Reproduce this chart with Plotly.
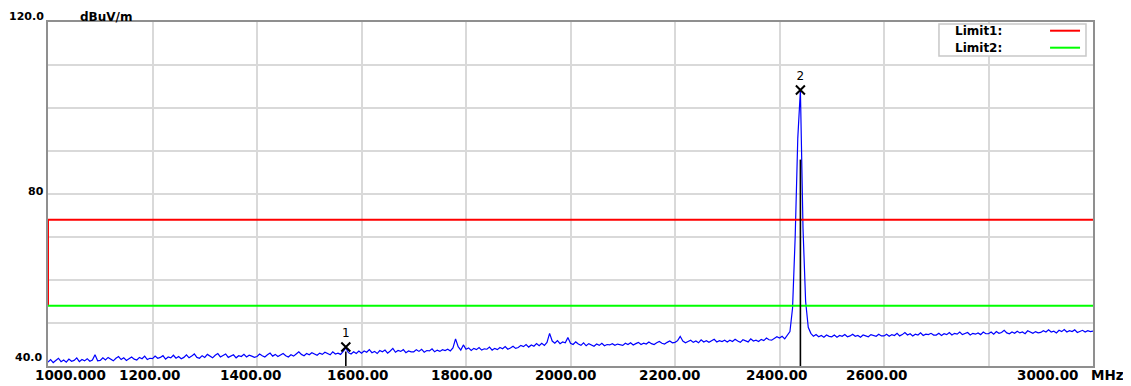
import numpy as np
import plotly.graph_objects as go

# ---------------- data ----------------
freq_start, freq_stop, freq_step = 1000, 3000, 5  # MHz sweep grid
level = [
    # 1000-1095
    40.9, 41.5, 40.8, 41.2, 41.8, 41.0, 41.4, 40.9, 41.6, 41.1, 41.3, 41.9, 41.0, 41.5, 41.2, 41.7, 41.1, 41.4, 42.6, 41.2,
    # 1100-1195
    41.3, 41.9, 41.4, 42.0, 41.6, 41.2, 41.8, 42.2, 41.5, 41.9, 41.3, 41.7, 42.1, 41.6, 41.4, 42.0, 41.7, 42.3, 41.5, 41.8,
    # 1200-1295
    41.7, 42.3, 41.8, 42.0, 42.4, 41.6, 42.1, 41.9, 42.5, 41.8, 42.2, 41.7, 42.0, 42.6, 41.9, 42.3, 42.8, 42.0, 41.8, 42.4,
    # 1300-1395
    42.0, 42.7, 42.2, 41.9, 42.5, 42.9, 42.1, 42.4, 42.8, 42.0, 42.3, 42.6, 41.9, 42.4, 42.2, 42.7, 42.1, 42.5, 42.3, 42.0,
    # 1400-1495
    42.2, 42.8, 42.4, 42.1, 42.6, 43.0, 42.3, 42.7, 42.2, 42.5, 42.9, 42.4, 42.1, 42.6, 42.3, 42.8, 43.3, 42.7, 42.4, 42.9,
    # 1500-1595
    42.6, 43.1, 42.8, 42.5, 43.0, 42.7, 43.2, 42.9, 42.6, 43.3, 42.8, 43.0, 42.7, 43.4, 44.2, 43.1, 42.8, 43.3, 42.9, 43.5,
    # 1600-1695
    43.0, 43.5, 43.2, 43.8, 43.1, 43.4, 42.9, 43.6, 43.3, 43.7, 43.0, 43.5, 44.1, 43.2, 43.6, 43.4, 43.8, 43.1, 43.5, 43.3,
    # 1700-1795
    43.3, 43.8, 43.4, 43.9, 43.2, 43.6, 43.5, 44.0, 43.3, 43.7, 43.4, 43.8, 43.6, 43.9, 43.5, 44.2, 46.3, 44.5, 43.7, 44.9,
    # 1800-1895
    43.9, 44.2, 43.6, 44.1, 43.8, 44.3, 43.7, 44.0, 43.9, 44.4, 43.7, 44.1, 43.8, 44.3, 44.0, 44.5, 43.9, 44.2, 44.6, 44.1,
    # 1900-1995
    44.3, 44.8, 44.5, 45.0, 44.4, 44.9, 44.6, 45.2, 44.7, 45.3, 44.8, 45.5, 47.6, 45.8, 45.3, 45.9, 45.2, 45.6, 45.4, 46.6,
    # 2000-2095
    45.3, 45.0, 45.6, 45.1, 44.8, 45.4, 44.7, 45.2, 44.9, 44.6, 45.1, 44.8, 45.3, 44.7, 45.0, 44.9, 45.2, 44.8, 45.1, 44.9,
    # 2100-2195
    44.8, 45.3, 45.0, 45.4, 44.9, 45.2, 45.5, 45.0, 45.3, 45.1, 45.6, 45.2, 45.0, 45.4, 45.7, 45.3, 45.1, 45.5, 45.8, 45.4,
    # 2200-2295
    45.5, 45.9, 46.9, 45.8, 45.4, 45.7, 46.0, 45.5, 45.8, 45.4, 46.1, 45.6, 45.9, 45.5, 45.8, 46.2, 45.6, 45.9, 45.7, 46.0,
    # 2300-2395
    45.6, 46.0, 45.7, 46.2, 45.8, 45.5, 46.1, 45.9, 45.6, 46.3, 45.8, 46.0, 45.7, 46.2, 45.9, 46.5, 46.1, 46.0, 46.4, 46.8,
    # 2400-2495 (carrier)
    46.5, 46.9, 46.3, 47.2, 48.0, 53.5, 70.0, 93.0, 104.2, 72.0, 55.0, 49.0, 47.6, 46.9, 47.3, 46.8, 47.1, 46.7, 47.2, 46.9,
    # 2500-2595
    46.8, 47.2, 46.7, 47.1, 46.9, 47.3, 46.8, 47.0, 47.4, 46.9, 47.1, 46.7, 47.2, 47.0, 46.8, 47.3, 47.1, 46.9, 47.4, 47.0,
    # 2600-2695
    47.0, 47.4, 46.9, 47.3, 47.1, 47.6, 47.0, 47.3, 47.8, 47.2, 47.5, 47.0, 47.4, 47.2, 47.7, 47.1, 47.4, 47.3, 47.6, 47.2,
    # 2700-2795
    47.2, 47.6, 47.1, 47.5, 47.3, 47.8, 47.2, 47.6, 47.4, 47.9, 47.3, 47.5, 47.8, 47.2, 47.6, 47.4, 47.7, 47.3, 47.9, 47.5,
    # 2800-2895
    47.5, 47.9, 47.4, 48.0, 47.6, 47.8, 48.3, 47.7, 47.5, 47.9, 47.6, 48.1, 47.7, 47.9, 47.5, 48.2, 47.8, 47.6, 48.0, 47.7,
    # 2900-2995
    47.8, 48.2, 47.9, 48.4, 47.9, 48.1, 47.7, 48.3, 48.0, 48.5, 47.9, 48.2, 48.0, 48.4, 47.8, 48.1, 48.3, 47.9, 48.2, 48.0,
    # 3000
    48.1,
]
freqs = np.arange(freq_start, freq_stop + freq_step / 2, freq_step)

limit1_level = 74.0
limit2_level = 54.0

marker_labels = ["1", "2"]
marker_freqs = [1570.0, 2440.0]
marker_levels = [44.4, 104.2]
marker_line_tops = [43.4, 88.0]

x_tick_values = [1000, 1200, 1400, 1600, 1800, 2000, 2200, 2400, 2600, 3000]
x_tick_labels = ["1000.000", "1200.00", "1400.00", "1600.00", "1800.00",
                 "2000.00", "2200.00", "2400.00", "2600.00", "3000.00"]
x_tick_shift = [-15, -3, -6, -4, -4, -5, -5, -3, -7, -45]
y_range = [40, 120]
x_range = [1000, 3000]

# ---------------- figure ----------------
fig = go.Figure()

fig.add_trace(go.Scatter(x=freqs, y=level, mode="lines",
                         line=dict(color="#0000ff", width=1.2), hoverinfo="skip"))

fig.add_trace(go.Scatter(x=[x_range[0], x_range[0], x_range[1]],
                         y=[limit2_level, limit1_level, limit1_level],
                         mode="lines", line=dict(color="#ff0000", width=2),
                         cliponaxis=False))
fig.add_trace(go.Scatter(x=[x_range[0], x_range[1]], y=[limit2_level, limit2_level],
                         mode="lines", line=dict(color="#00ff00", width=2)))

for f, top in zip(marker_freqs, marker_line_tops):
    fig.add_trace(go.Scatter(x=[f, f], y=[top, y_range[0]], mode="lines",
                             line=dict(color="black", width=1.6)))

fig.add_trace(go.Scatter(x=marker_freqs, y=marker_levels, mode="markers+text",
                         marker=dict(symbol="x-thin", size=9, color="black",
                                     line=dict(width=2, color="black")),
                         text=marker_labels, textposition="top center",
                         textfont=dict(family="DejaVu Sans", size=12, color="black"),
                         cliponaxis=False))

lab_font = dict(family="DejaVu Sans", size=13.5, color="black")
ylab_font = dict(family="DejaVu Sans", size=11, color="black")
unit_font = dict(family="DejaVu Sans", size=12, color="black")

annotations = []
for v, t, s in zip(x_tick_values, x_tick_labels, x_tick_shift):
    annotations.append(dict(x=v, y=-0.027, xref="x", yref="paper",
                            text="<b>%s</b>" % t, showarrow=False,
                            xanchor="left" if v == x_range[0] else "center",
                            yanchor="middle", xshift=s, font=lab_font))
annotations.append(dict(x=x_range[1], y=-0.027, xref="x", yref="paper", text="<b>MHz</b>",
                        showarrow=False, xanchor="center", yanchor="middle",
                        xshift=14, font=lab_font))
annotations.append(dict(x=-0.002, y=1.0407, xref="paper", yref="paper", text="<b>120.0</b>",
                        showarrow=False, xanchor="right", yanchor="top", font=ylab_font))
annotations.append(dict(x=0.0287, y=1.0407, xref="paper", yref="paper", text="<b>dBuV/m</b>",
                        showarrow=False, xanchor="left", yanchor="top", font=unit_font))
annotations.append(dict(x=-0.002, y=0.507, xref="paper", yref="paper", text="<b>80</b>",
                        showarrow=False, xanchor="right", yanchor="middle", font=ylab_font))
annotations.append(dict(x=-0.004, y=0.026, xref="paper", yref="paper", text="<b>40.0</b>",
                        showarrow=False, xanchor="right", yanchor="middle", font=ylab_font))

# legend box
leg_font = dict(family="DejaVu Sans", size=12, color="black")
annotations.append(dict(x=0.866, y=0.9747, xref="paper", yref="paper", text="<b>Limit1:</b>",
                        showarrow=False, xanchor="left", yanchor="middle", font=leg_font))
annotations.append(dict(x=0.866, y=0.9253, xref="paper", yref="paper", text="<b>Limit2:</b>",
                        showarrow=False, xanchor="left", yanchor="middle", font=leg_font))

shapes = [
    dict(type="rect", xref="paper", yref="paper", x0=0.8526, x1=0.9933, y0=0.9012, y1=0.9942,
         fillcolor="white", line=dict(color="#c8c8c8", width=1.5), layer="above"),
    dict(type="line", xref="paper", yref="paper", x0=0.9589, x1=0.9876, y0=0.9747, y1=0.9747,
         line=dict(color="#ff0000", width=2), layer="above"),
    dict(type="line", xref="paper", yref="paper", x0=0.9589, x1=0.9876, y0=0.9253, y1=0.9253,
         line=dict(color="#00ff00", width=2), layer="above"),
]

# page body has an 8px default margin, so the figure is placed at (8, 8)
fig.update_layout(
    width=1123, height=378,
    margin=dict(l=40, r=38, t=14, b=20),
    paper_bgcolor="white", plot_bgcolor="white",
    showlegend=False,
    annotations=annotations, shapes=shapes,
    xaxis=dict(range=x_range, dtick=200, tick0=1000, showgrid=True, gridcolor="#d9d9d9",
               gridwidth=2, zeroline=False, showticklabels=False, ticks="",
               showline=True, mirror=True, linecolor="#8f8f8f", linewidth=2),
    yaxis=dict(range=y_range, dtick=10, tick0=40, showgrid=True, gridcolor="#d9d9d9",
               gridwidth=2, zeroline=False, showticklabels=False, ticks="",
               showline=True, mirror=True, linecolor="#8f8f8f", linewidth=2),
)

fig.write_html("out.html")
